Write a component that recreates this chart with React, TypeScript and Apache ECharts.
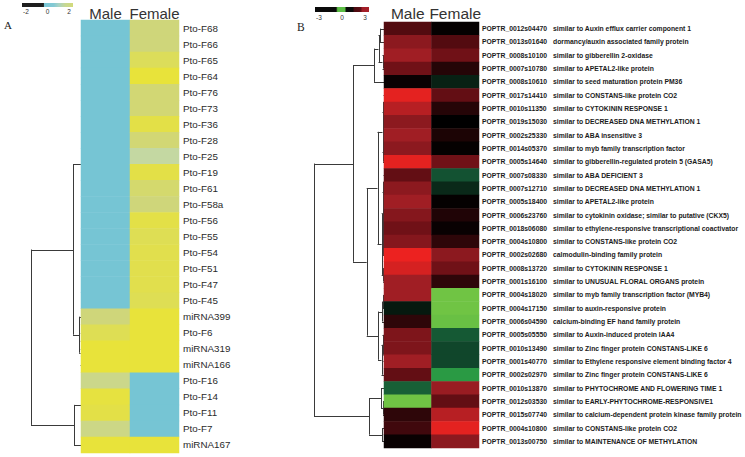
import React, { useEffect, useRef } from "react";
import * as echarts from "echarts";

// ---------- Panel A data ----------
const columns = ["Male", "Female"];
const rowsA = [
  "Pto-F68", "Pto-F66", "Pto-F65", "Pto-F64", "Pto-F76", "Pto-F73", "Pto-F36", "Pto-F28", "Pto-F25",
  "Pto-F19", "Pto-F61", "Pto-F58a", "Pto-F56", "Pto-F55", "Pto-F54", "Pto-F51", "Pto-F47", "Pto-F45",
  "miRNA399", "Pto-F6", "miRNA319", "miRNA166", "Pto-F16", "Pto-F14", "Pto-F11", "Pto-F7", "miRNA167",
];
const maleA = [0, 0, 0, 0, 0, 0, 0, 0, 0, 0, 0, 0, 0, 0, 0, 0, 0, 0, 1.5, 1.8, 2, 2, 1.3, 1.95, 1.9, 1.35, 2];
const femaleA = [1.5, 1.5, 1.75, 2, 1.55, 1.55, 1.9, 1.55, 1.0, 1.9, 1.6, 1.5, 1.9, 1.8, 1.85, 1.85, 1.85, 1.8, 2, 2, 2, 2, 0, 0, 0, 0, 2];
const ticksA = ["-2", "0", "2"];
// dendrogram A: [height, ...children], leaf = row index
const dendroA: any = [50,
  [8, [0, 0, 1, 2, 3, 4, 5, 6, 7, 8, 9, 10, 11, 12, 13, 14, 15, 16, 17], [1.8, 18, [0.4, [0.2, 19, 20], 21]]],
  [7, [0, 22, 23, 24, 25], 26],
];

// ---------- Panel B data ----------
const idsB = [
  "POPTR_0012s04470", "POPTR_0013s01640", "POPTR_0008s10100", "POPTR_0007s10780", "POPTR_0008s10610",
  "POPTR_0017s14410", "POPTR_0010s11350", "POPTR_0019s15030", "POPTR_0002s25330", "POPTR_0014s05370",
  "POPTR_0005s14640", "POPTR_0007s08330", "POPTR_0007s12710", "POPTR_0005s18400", "POPTR_0006s23760",
  "POPTR_0018s06080", "POPTR_0004s10800", "POPTR_0002s02680", "POPTR_0008s13720", "POPTR_0001s16100",
  "POPTR_0004s18020", "POPTR_0004s17150", "POPTR_0006s04590", "POPTR_0005s05550", "POPTR_0010s13490",
  "POPTR_0001s40770", "POPTR_0002s02970", "POPTR_0010s13870", "POPTR_0012s03530", "POPTR_0015s07740",
  "POPTR_0004s10800", "POPTR_0013s00750",
];
const descB = [
  "similar to Auxin efflux carrier component 1",
  "dormancy/auxin associated family protein",
  "similar to gibberellin 2-oxidase",
  "similar to APETAL2-like protein",
  "similar to seed maturation protein PM36",
  "similar to CONSTANS-like protein CO2",
  "similar to CYTOKININ RESPONSE 1",
  "similar to DECREASED DNA METHYLATION 1",
  "similar to ABA insensitive 3",
  "similar to myb family transcription factor",
  "similar to gibberellin-regulated protein 5 (GASA5)",
  "similar to ABA DEFICIENT 3",
  "similar to DECREASED DNA METHYLATION 1",
  "similar to APETAL2-like protein",
  "similar to cytokinin oxidase; similar to putative (CKX5)",
  "similar to ethylene-responsive transcriptional coactivator",
  "similar to CONSTANS-like protein CO2",
  "calmodulin-binding family protein",
  "similar to CYTOKININ RESPONSE 1",
  "similar to UNUSUAL FLORAL ORGANS protein",
  "similar to myb family transcription factor (MYB4)",
  "similar to auxin-responsive protein",
  "calcium-binding EF hand family protein",
  "similar to Auxin-induced protein IAA4",
  "similar to Zinc finger protein CONSTANS-LIKE 6",
  "similar to Ethylene responsive element binding factor 4",
  "similar to Zinc finger protein CONSTANS-LIKE 6",
  "similar to PHYTOCHROME AND FLOWERING TIME 1",
  "similar to EARLY-PHYTOCHROME-RESPONSIVE1",
  "similar to calcium-dependent protein kinase family protein",
  "similar to CONSTANS-like protein CO2",
  "similar to MAINTENANCE OF METHYLATION",
];
const maleB = [0.9, 1.7, 2.0, 1.3, 0.1, 2.9, 2.3, 1.7, 2.0, 1.7, 2.9, 1.1, 1.7, 2.0, 1.6, 1.3, 1.6, 3.0, 2.7, 2.0,
  2.0, -0.3, 0.5, 1.5, 1.5, 2.0, 1.1, -1.2, -3.0, 0.5, 0.7, 0.1];
const femaleB = [0.05, 0.9, 1.3, 0.4, -0.4, 1.1, 0.4, 0, 0.3, 0.05, 1.3, -1.0, -0.5, 0.05, 0.35, 0.1, 0.5, 1.7, 1.3, 0.5,
  -3.0, -3.0, -2.9, -1.1, -0.85, -0.85, -2.0, 1.9, 1.1, 2.3, 2.9, 1.7];
const ticksB = ["-3", "0", "3"];
const dendroB: any = [70,
  [31,
    [10, [5.5, [4, 0, 1], [1.5, 2, 3]], 4],
    [17.3,
      [6.5,
        [1.5, [1, [0.5, 5, 6], 7], [1, [0.5, 8, 9], 10]],
        [2.3, [1.5, [1, [0.5, 11, 12], 13], [1.2, [0.5, 14, 15], [1, 16, 17]]], [0.8, 18, 19]],
      ],
      [6, [2, [1, 20, 21], 22], [2.5, [1.5, 23, [0.5, 24, 25]], 26]],
    ],
  ],
  [15, [3, 27, [1, 28, 29]], [2, 30, 31]],
];

// colour scales
const colorsA = ["#76c5d4", "#a2cfbf", "#c4d8a2", "#cfd67a", "#e8e33a"];
const colorsB = ["#70c444", "#2a9a44", "#135232", "#000000", "#5c0c12", "#a01e24", "#ec2220"];
const barStopsA: [number, string][] = [[0, "#1e1e1e"], [0.42, "#1e1e1e"], [0.44, "#78c6d6"], [0.62, "#84c9d4"], [0.72, "#a8d2c4"], [0.85, "#c8d892"], [1, "#d2da7a"]];
const barStopsB: [number, string][] = [[0, "#0a0a0a"], [0.39, "#0a0a0a"], [0.42, "#5cbf45"], [0.55, "#5cbf45"], [0.58, "#0a0a0a"], [0.7, "#0a0a0a"], [0.73, "#4a0a10"], [0.84, "#5a0c14"], [0.88, "#a01e28"], [1, "#a82028"]];

const SANS = "'Liberation Sans', Arial, sans-serif";
const SERIF = "'Liberation Serif', 'Times New Roman', serif";

function treeSegments(node: any): number[][] {
  const segs: number[][] = [];
  const walk = (n: any): { p: number; h: number } => {
    if (typeof n === "number") return { p: n + 0.5, h: 0 };
    const [h, ...kids] = n;
    const ks = kids.map(walk);
    const p = ks.reduce((s: number, k: any) => s + k.p, 0) / ks.length;
    if (h > 0) {
      let lo = Infinity, hi = -Infinity;
      ks.forEach((k: any) => {
        segs.push([k.h, k.p, h, k.p]);
        lo = Math.min(lo, k.p);
        hi = Math.max(hi, k.p);
      });
      segs.push([h, lo, h, hi]);
    }
    return { p, h };
  };
  walk(node);
  return segs;
}

function heatData(male: number[], female: number[]) {
  const d: number[][] = [];
  male.forEach((v, i) => d.push([0, i, v]));
  female.forEach((v, i) => d.push([1, i, v]));
  return d;
}

const renderSeg = (params: any, api: any) => {
  const a = api.coord([api.value(0), api.value(1)]);
  const b = api.coord([api.value(2), api.value(3)]);
  const snap = (v: number) => Math.round(v) + 0.5;
  const vertical = Math.abs(a[0] - b[0]) < 0.01;
  return {
    type: "line",
    shape: vertical
      ? { x1: snap(a[0]), y1: a[1], x2: snap(b[0]), y2: b[1] }
      : { x1: a[0], y1: snap(a[1]), x2: b[0], y2: snap(b[1]) },
    style: { stroke: "#3a3a3a", lineWidth: 1 },
  };
};

function colorBar(x: number, y: number, w: number, h: number, stops: [number, string][], ticks: string[], ty: number) {
  const els: any[] = [
    {
      type: "rect",
      shape: { x, y, width: w, height: h },
      style: {
        fill: new echarts.graphic.LinearGradient(0, 0, 1, 0, stops.map(([offset, color]) => ({ offset, color }))),
      },
    },
  ];
  ticks.forEach((t, i) => {
    els.push({
      type: "text",
      x: x + 4 + (i * (w - 8)) / (ticks.length - 1),
      y: ty,
      style: { text: t, fontSize: 6.5, fontFamily: SANS, fill: "#333", align: "center", verticalAlign: "middle" },
    });
  });
  return els;
}

export default function App() {
  const ref = useRef<HTMLDivElement>(null);
  useEffect(() => {
    const chart = echarts.init(ref.current!, null, { renderer: "svg" });
    const catX = (gi: number, size: number, margin: number) => ({
      type: "category",
      gridIndex: gi,
      data: columns,
      position: "top",
      axisLine: { show: false },
      axisTick: { show: false },
      splitLine: { show: false },
      axisLabel: { fontSize: size, color: "#333", fontFamily: SANS, margin, interval: 0, hideOverlap: false },
    });
    const hidden = (gi: number, max: number) => ({
      type: "value", gridIndex: gi, min: 0, max, inverse: true, show: false,
    });
    const option: any = {
      animation: false,
      backgroundColor: "#fff",
      grid: [
        { left: 81, top: 20, width: 98, height: 433 },
        { left: 0, top: 20, width: 81, height: 433 },
        { left: 384, top: 22, width: 95, height: 426 },
        { left: 300, top: 22, width: 84, height: 426 },
      ],
      xAxis: [
        catX(0, 15, -1),
        hidden(1, 81),
        catX(2, 15.5, 1),
        hidden(3, 84),
      ],
      yAxis: [
        {
          type: "category", gridIndex: 0, data: rowsA, inverse: true, position: "right",
          axisLine: { show: false }, axisTick: { show: false }, splitLine: { show: false },
          axisLabel: { fontSize: 9.8, color: "#2a2a2a", fontFamily: SANS, margin: 4, interval: 0 },
        },
        { ...hidden(1, rowsA.length), type: "value" },
        {
          type: "category", gridIndex: 2, data: idsB.map((_, i) => String(i)), inverse: true, position: "right",
          axisLine: { show: false }, axisTick: { show: false }, splitLine: { show: false },
          axisLabel: {
            interval: 0, margin: 3,
            formatter: (v: string) => {
              const i = Number(v);
              return `{id|${idsB[i]}}{d|${descB[i]}}`;
            },
            rich: {
              id: { width: 71, fontSize: 6.8, fontWeight: "bold", fontFamily: SANS, color: "#1a1a1a" },
              d: { fontSize: 6.8, fontWeight: "bold", fontFamily: SANS, color: "#1a1a1a" },
            },
          },
        },
        { ...hidden(3, idsB.length), type: "value" },
      ],
      visualMap: [
        { type: "continuous", show: false, seriesIndex: 0, min: 0, max: 2, inRange: { color: colorsA } },
        { type: "continuous", show: false, seriesIndex: 2, min: -3, max: 3, inRange: { color: colorsB } },
      ],
      series: [
        {
          type: "heatmap", xAxisIndex: 0, yAxisIndex: 0, data: heatData(maleA, femaleA), z: 3,
          emphasis: { disabled: true }, silent: true, progressive: 0,
        },
        {
          type: "custom", xAxisIndex: 1, yAxisIndex: 1, data: treeSegments(dendroA), z: 1,
          encode: { x: [0, 2], y: [1, 3] }, renderItem: renderSeg, silent: true,
        },
        {
          type: "heatmap", xAxisIndex: 2, yAxisIndex: 2, data: heatData(maleB, femaleB), z: 3,
          emphasis: { disabled: true }, silent: true, progressive: 0,
        },
        {
          type: "custom", xAxisIndex: 3, yAxisIndex: 3, data: treeSegments(dendroB), z: 1,
          encode: { x: [0, 2], y: [1, 3] }, renderItem: renderSeg, silent: true,
        },
      ],
      graphic: [
        ...colorBar(22, 3, 51, 4, barStopsA, ticksA, 11),
        ...colorBar(315, 7, 54, 5, barStopsB, ticksB, 17.5),
        { type: "text", x: 4, y: 19, style: { text: "A", fontSize: 11, fontFamily: SERIF, fill: "#222" } },
        { type: "text", x: 297, y: 21, style: { text: "B", fontSize: 11.5, fontFamily: SERIF, fill: "#222" } },
      ],
    };
    chart.setOption(option);
    return () => chart.dispose();
  }, []);
  return (
    <div
      ref={ref}
      style={{ position: "fixed", left: 0, top: 0, width: 745, height: 457, background: "#fff" }}
    />
  );
}
